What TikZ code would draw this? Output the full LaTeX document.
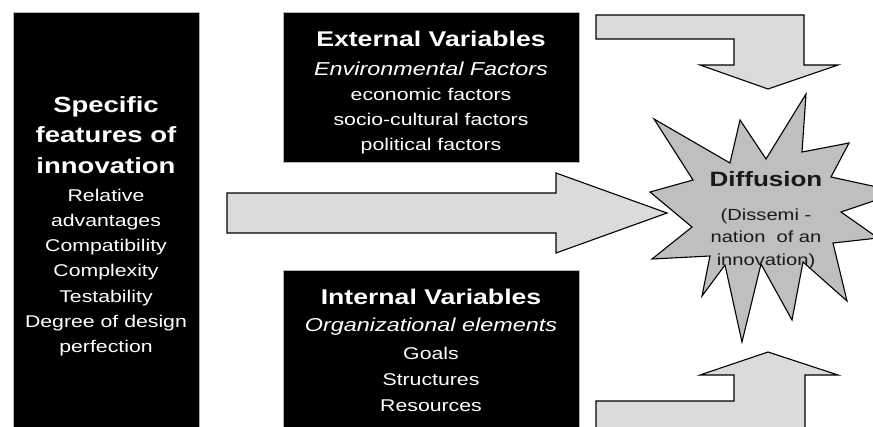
\documentclass[tikz,border=0pt]{standalone}
\usepackage{fontspec}
\setmainfont{Liberation Sans}[FakeStretch=1.25]
\usetikzlibrary{positioning}
\definecolor{arrowgray}{gray}{0.86}
\definecolor{burstgray}{gray}{0.75}
\newcommand{\headfont}{\fontsize{21.3}{25}\selectfont\bfseries}
\newcommand{\bigheadfont}{\fontsize{22}{25}\selectfont\bfseries}
\newcommand{\subfont}{\fontsize{18.7}{25}\selectfont\itshape}

\begin{document}
\begin{tikzpicture}[x=1pt, y=-1pt,
	blackbox/.style={fill=black, draw=gray!60, line width=.5pt, inner sep=0pt},
	boxtext/.style={text=white, align=center, inner sep=0pt},
	blockarrow/.style={fill=arrowgray, draw=black, line width=1.1pt, line join=miter},
	burst/.style={fill=burstgray, draw=black, line width=1.1pt, line join=miter}]
	\clip (0,0) rectangle (873,426);
	% boxes
	\node [blackbox, minimum width=186, minimum height=440] (feat) at (106,232) {};
	\node [blackbox, minimum width=296, minimum height=150] (ext) at (431,87) {};
	\node [blackbox, minimum width=296, minimum height=180] (int) at (431,360) {};
	\node [boxtext, font=\fontsize{17}{25.3}\selectfont] (featTxt) at (106,226.2)
		{\bigheadfont Specific\\[4.7pt]\bigheadfont features of\\[5.7pt]\bigheadfont innovation\\[2.7pt]
		 Relative\\advantages\\Compatibility\\Complexity\\Testability\\Degree of design\\perfection};
	\node [boxtext, font=\fontsize{17}{25}\selectfont] (extTxt) at (431,92.6)
		{\headfont External Variables\\[4.3pt]\subfont Environmental Factors\\
		 economic factors\\socio-cultural factors\\political factors};
	\node [boxtext, font=\fontsize{17}{26}\selectfont] (intTxt) at (431,350.5)
		{\headfont Internal Variables\\[1.4pt]\subfont Organizational elements\\[2.3pt]
		 Goals\\Structures\\Resources};
	% arrows
	\filldraw [blockarrow] (227,193) -- (556,193) -- (556,173) -- (667,213)
		-- (556,253) -- (556,233) -- (227,233) -- cycle;
	\filldraw [blockarrow] (596,15) -- (804,15) -- (804,65) -- (838,65) -- (768,89)
		-- (700,65) -- (734,65) -- (734,39) -- (596,39) -- cycle;
	\filldraw [blockarrow] (596,430) -- (596,401) -- (734,401) -- (734,375) -- (700,375)
		-- (768,352) -- (838,375) -- (805,375) -- (805,430) -- cycle;
	% diffusion
	\filldraw [burst] (806,94) -- (802,152) -- (849,143) -- (831,177) -- (900,192)
		-- (841,212) -- (878,238) -- (833,243) -- (847,301) -- (803,262)
		-- (792,320) -- (761,264) -- (742,342) -- (725,265) -- (702,296)
		-- (710,256) -- (652,259) -- (692,227) -- (650,192) -- (693,180)
		-- (654,119) -- (730,163) -- (740,120) -- (766,159) -- cycle;
	\node [align=center, inner sep=0pt, text=black!90, font=\fontsize{16.1}{22.8}\selectfont] (diffTxt) at (766,220)
		{{\fontsize{20.8}{25}\selectfont\bfseries Diffusion}\\[11.2pt](Dissemi -\\nation~ of an\\innovation)};
\end{tikzpicture}
\end{document}
